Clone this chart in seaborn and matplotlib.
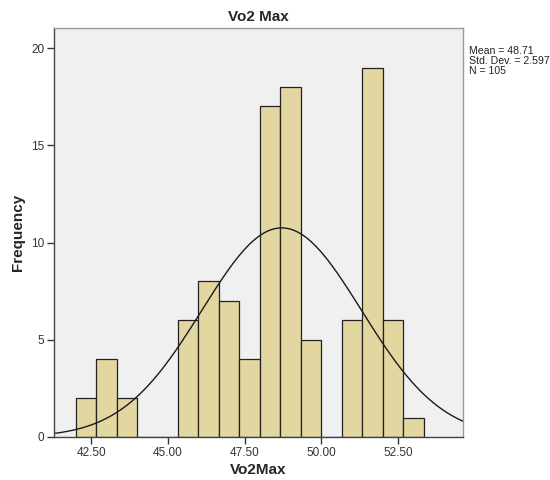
import numpy as np
import matplotlib
matplotlib.use("Agg")
import matplotlib.pyplot as plt
import seaborn as sns

# Histogram data (bins of width 2/3 starting at 42.0)
bin_edges = [42.0 + i * (2.0 / 3.0) for i in range(18)]
counts = [2, 4, 2, 0, 0, 6, 8, 7, 4, 17, 18, 5, 0, 6, 19, 6, 1]
bin_centers = [(bin_edges[i] + bin_edges[i + 1]) / 2 for i in range(len(counts))]

# summary stats shown in the chart
mean_val = 48.71
std_val = 2.597
n_val = 105

x_ticks = [42.5, 45.0, 47.5, 50.0, 52.5]
y_ticks = [0, 5, 10, 15, 20]

sns.set_style("white")
plt.rcParams['font.family'] = ['Liberation Sans', 'DejaVu Sans']

fig = plt.figure(figsize=(5.5, 4.8), dpi=100)
ax = fig.add_axes([0.098, 0.0896, 0.744, 0.852])
ax.set_facecolor("#F0F0F0")

sns.histplot(x=bin_centers, weights=counts, bins=bin_edges, ax=ax,
             color="#E2D7A1", edgecolor="#222222", linewidth=0.9, alpha=1.0)

# normal curve scaled to the histogram
width = bin_edges[1] - bin_edges[0]
xs = np.linspace(41.29, 54.62, 300)
ys = n_val * width * np.exp(-0.5 * ((xs - mean_val) / std_val) ** 2) / (std_val * np.sqrt(2 * np.pi))
sns.lineplot(x=xs, y=ys, ax=ax, color="#1a1a1a", linewidth=1.0)

ax.set_xlim(41.29, 54.62)
ax.set_ylim(0, 21.03)
ax.set_xticks(x_ticks)
ax.set_xticklabels([f"{t:.2f}" for t in x_ticks], fontsize=8.5, color="#333333")
ax.set_yticks(y_ticks)
ax.set_yticklabels([str(t) for t in y_ticks], fontsize=8.5, color="#333333")
ax.tick_params(axis="both", direction="out", length=5, width=1, color="#333333", pad=2)
ax.tick_params(axis="x", bottom=True)
ax.tick_params(axis="y", left=True)

for side in ["left", "bottom"]:
    ax.spines[side].set_color("#444444")
    ax.spines[side].set_linewidth(1.0)
for side in ["top", "right"]:
    ax.spines[side].set_color("#999999")
    ax.spines[side].set_linewidth(1.0)

ax.set_xlabel("Vo2Max", fontsize=11, fontweight="bold", labelpad=3)
ax.set_ylabel("Frequency", fontsize=11, fontweight="bold", labelpad=4)
ax.set_title("Vo2 Max", fontsize=11, fontweight="bold", pad=5)

fig.text(0.853, 0.905, f"Mean = {mean_val:.2f}\nStd. Dev. = {std_val:.3f}\nN = {n_val}",
         fontsize=7.6, va="top", ha="left", color="#222222", linespacing=1.05)

fig.savefig("out.png", dpi=100, facecolor="white")
